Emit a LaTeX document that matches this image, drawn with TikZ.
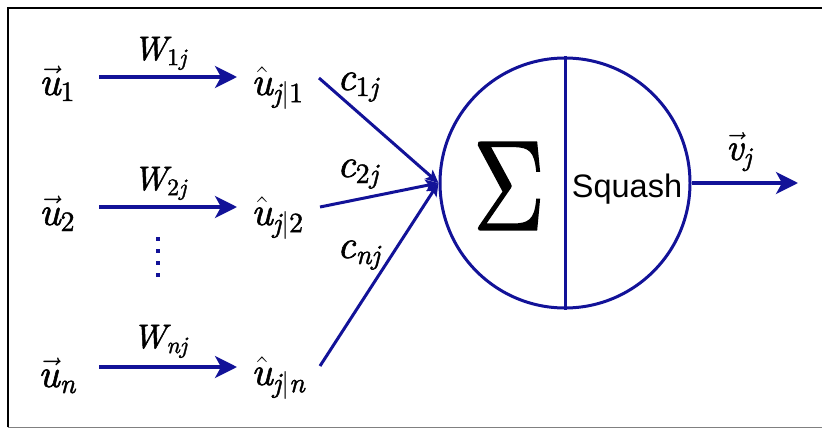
\RequirePackage{fix-cm}
\documentclass[tikz,border=0pt]{standalone}
\usepackage{amsmath}
\usepackage{fontspec}
\newfontfamily\sqfont{Liberation Sans}
\newfontface\lmi{lmroman10-italic.otf}[FakeBold=1.4]
\newfontface\lmr{lmroman10-regular.otf}[FakeBold=1.4]
\newcommand\ti[1]{\text{\lmi #1}}
\newcommand\tr[1]{\text{\lmr #1}}
\usetikzlibrary{arrows.meta}
\definecolor{nblue}{RGB}{18,18,152}
\tikzset{
  lab/.style={inner sep=0pt, anchor=base},
  labw/.style={inner sep=0pt, anchor=base west},
  big/.style={font=\fontsize{40}{42}\selectfont},
  wlab/.style={font=\fontsize{34}{36}\selectfont},
  clab/.style={font=\fontsize{40}{42}\selectfont},
  harrow/.style={draw=nblue, line width=3.3pt, -{Stealth[length=22pt,width=22pt,inset=6pt]}},
  carrow/.style={draw=nblue, line width=3pt, -{Stealth[length=13pt,width=12pt,inset=3pt]}},
  dotmark/.style={fill=nblue, rectangle, minimum size=4pt, inner sep=0pt},
}
\begin{document}
\begin{tikzpicture}[x=1pt,y=-1pt]
\useasboundingbox (0,0) rectangle (822,428);
% frame
\draw[line width=2pt] (7.5,427) -- (7.5,8) -- (822,8);
\draw[gray, line width=1pt] (7.5,427) -- (822,427);

% inputs
\node[lab,big] (u1) at (57,95) {$\vec{\ti{u}}_{\tr{1}}$};
\node[lab,big] (u2) at (57,225) {$\vec{\ti{u}}_{\tr{2}}$};
\node[lab,big] (un) at (57,387) {$\vec{\ti{u}}_{\ti{n}}$};

% predictions
\node[labw,big] (uh1) at (251,95) {$\hat{\ti{u}}_{\ti{j}|\tr{1}}$};
\node[labw,big] (uh2) at (251,225) {$\hat{\ti{u}}_{\ti{j}|\tr{2}}$};
\node[labw,big] (uhn) at (251,385) {$\hat{\ti{u}}_{\ti{j}|\ti{n}}$};

% weight arrows
\coordinate (a1) at (99,77);  \coordinate (b1) at (237,77);
\coordinate (a2) at (99,207); \coordinate (b2) at (237,207);
\coordinate (an) at (99,367); \coordinate (bn) at (237,367);
\draw[harrow] (a1) -- (b1);
\draw[harrow] (a2) -- (b2);
\draw[harrow] (an) -- (bn);
\node[lab,wlab] (w1) at (160,60) {$\ti{W}_{\tr{1}\ti{j}}$};
\node[lab,wlab] (w2) at (160,190) {$\ti{W}_{\tr{2}\ti{j}}$};
\node[lab,wlab] (wn) at (160,348) {$\ti{W}_{\ti{nj}}$};

% dots
\node[dotmark] (d1) at (158,239) {};
\node[dotmark] (d2) at (158,251) {};
\node[dotmark] (d3) at (158,263) {};
\node[dotmark] (d4) at (158,275) {};

% summation node
\node[draw=nblue, line width=3pt, circle, minimum size=250pt, inner sep=0pt] (sum) at (565,183) {};
\draw[draw=nblue, line width=3pt] (sum.north) -- (sum.south);
\node[inner sep=0pt, font=\lmr\fontsize{128}{128}\selectfont] (sig) at (509,186) {\scalebox{0.78}[1]{Σ}};
\node[lab, font=\sqfont\fontsize{32.5}{34}\selectfont] (sq) at (627,197) {Squash};

% coupling connectors
\coordinate (s1) at (319,78);
\coordinate (s2) at (320,207);
\coordinate (sn) at (320,366);
\draw[carrow] (s1) -- (sum.west);
\draw[carrow] (s2) -- (sum.west);
\draw[carrow] (sn) -- (sum.west);
\node[labw,clab] (c1) at (337,90) {$\ti{c}_{\tr{1}\ti{j}}$};
\node[labw,clab] (c2) at (337,177) {$\ti{c}_{\tr{2}\ti{j}}$};
\node[labw,clab] (cn) at (337,258) {$\ti{c}_{\ti{nj}}$};

% output
\coordinate (vend) at (798,183);
\draw[harrow] (sum.east) -- (vend);
\node[lab, font=\fontsize{38}{40}\selectfont] (vj) at (739,160) {$\vec{\ti{v}}_{\ti{j}}$};
\end{tikzpicture}
\end{document}
